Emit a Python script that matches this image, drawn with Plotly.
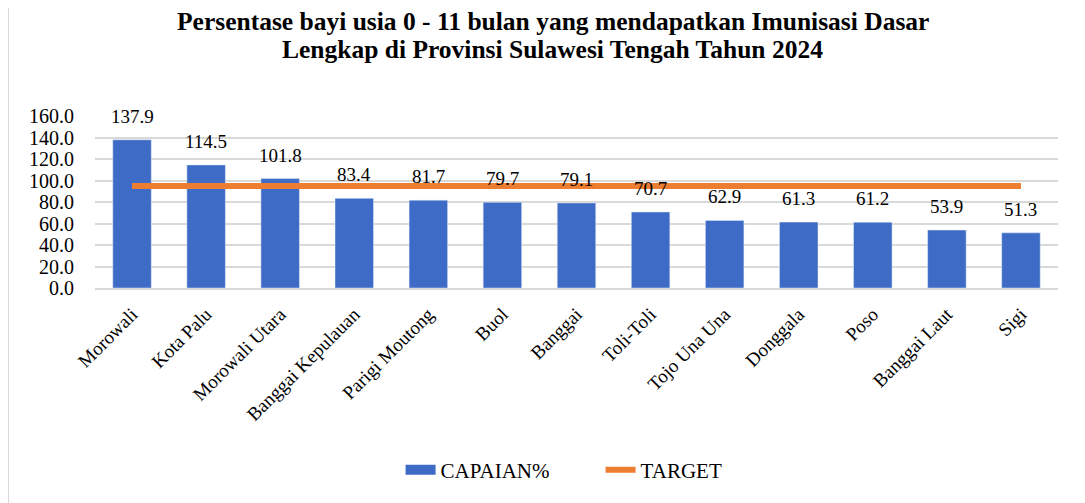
import plotly.graph_objects as go

regions = ["Morowali", "Kota Palu", "Morowali Utara", "Banggai Kepulauan", "Parigi Moutong",
           "Buol", "Banggai", "Toli-Toli", "Tojo Una Una", "Donggala", "Poso",
           "Banggai Laut", "Sigi"]
capaian = [137.9, 114.5, 101.8, 83.4, 81.7, 79.7, 79.1, 70.7, 62.9, 61.3, 61.2, 53.9, 51.3]
target = [95] * len(regions)
title_lines = ["Persentase bayi usia 0 - 11 bulan yang mendapatkan Imunisasi Dasar",
               "Lengkap di Provinsi Sulawesi Tengah Tahun 2024"]

font_family = "Liberation Serif, Times New Roman, serif"
bar_color = "#3D6BC6"
line_color = "#ED7D31"

fig = go.Figure()
fig.add_trace(go.Bar(
    x=regions, y=capaian, name="CAPAIAN%",
    marker=dict(color=bar_color),
    showlegend=False,
))
fig.add_trace(go.Scatter(
    x=regions, y=target, name="TARGET", mode="lines",
    line=dict(color=line_color, width=6),
    showlegend=False,
))
# legend entries
fig.add_trace(go.Scatter(x=[None], y=[None], mode="lines", name="CAPAIAN%",
                         line=dict(color=bar_color, width=10)))
fig.add_trace(go.Scatter(x=[None], y=[None], mode="lines", name="TARGET",
                         line=dict(color=line_color, width=6)))

annotations = [
    dict(x=r, y=v, xref="x", yref="y", text=f"{v:.1f}", showarrow=False,
         yanchor="bottom", yshift=11,
         font=dict(size=19, family=font_family, color="#000000"))
    for r, v in zip(regions, capaian)
]
for line, ypos in zip(title_lines, [1.547, 1.384]):
    annotations.append(dict(
        x=0.4755, y=ypos, xref="paper", yref="paper", text=f"<b>{line}</b>",
        showarrow=False, xanchor="center", yanchor="middle",
        font=dict(size=25.5, family=font_family, color="#000000")))

fig.update_layout(
    width=1085, height=503,
    paper_bgcolor="white", plot_bgcolor="white",
    margin=dict(l=87, r=35, t=108, b=223),
    font=dict(family=font_family, color="#000000"),
    showlegend=True,
    legend=dict(orientation="h", x=0.525, xanchor="center", y=-1.058, yanchor="middle",
                font=dict(size=21, family=font_family), traceorder="normal",
                entrywidth=155, entrywidthmode="pixels"),
    annotations=annotations,
    shapes=[dict(type="rect", xref="paper", yref="paper",
                 x0=-0.0903, x1=1.1, y0=-1.4, y1=1.645,
                 line=dict(color="#D9D9D9", width=2), layer="below")],
    bargap=0.48,
)
fig.update_yaxes(range=[0, 160], dtick=20, tickformat=".1f", showgrid=True,
                 gridcolor="#D9D9D9", gridwidth=1.5, zeroline=False, automargin=False,
                 ticklabelstandoff=20,
                 tickfont=dict(size=20, family=font_family), ticks="", showline=False)
fig.update_xaxes(tickangle=-45, tickfont=dict(size=19, family=font_family), showline=True,
                 linecolor="#D9D9D9", linewidth=1.5, ticks="", automargin=False,
                 ticklabelstandoff=6)

fig.write_html("out.html")
